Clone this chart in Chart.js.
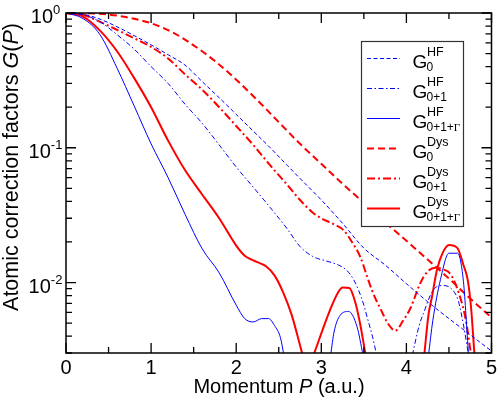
<!DOCTYPE html>
<html><head><meta charset="utf-8">
<script src="https://cdn.jsdelivr.net/npm/chart.js@4.4.1/dist/chart.umd.min.js"></script>
<style>html,body{margin:0;padding:0;background:#fff;}#c{display:block;}</style>
</head><body>
<canvas id="c" width="498" height="399"></canvas>
<script>
// ---------- data ----------
const P_HF0 = [0,0.2,0.4,0.6,0.8,1.0,1.2,1.4,1.6,1.8,2.0,2.2,2.4,2.6,2.8,3.0,3.25,3.5,3.75,4.0,4.25,4.5,4.75,5.0];
const G_HF0 = [1,0.98,0.90,0.79,0.68,0.58,0.49,0.41,0.31,0.235,0.177,0.133,0.10,0.074,0.055,0.041,0.0275,0.018,0.0135,0.0098,0.0072,0.0054,0.0041,0.0031];

const P_HF01 = [0,0.2,0.4,0.6,0.8,1.0,1.2,1.4,1.6,1.8,2.0,2.2,2.4,2.6,2.75,2.9,3.05,3.2,3.3,3.38,3.44,3.5,3.54,3.6,3.65,3.9,4.07,4.15,4.2,4.31,4.42,4.52,4.61,4.68,4.73];
const G_HF01 = [1,0.97,0.86,0.69,0.54,0.40,0.30,0.21,0.152,0.105,0.072,0.051,0.036,0.025,0.0185,0.0156,0.0145,0.0135,0.0123,0.0105,0.0087,0.0068,0.0055,0.0040,0.0029,null,0.0029,0.0048,0.0059,0.0087,0.0095,0.0091,0.0073,0.0045,0.0029];

const P_HF01G = [0,0.2,0.4,0.6,0.8,1.0,1.2,1.4,1.6,1.8,2.0,2.1,2.2,2.3,2.38,2.45,2.52,2.56,2.8,3.11,3.15,3.22,3.32,3.42,3.49,3.9,4.26,4.31,4.4,4.5,4.6,4.67,4.73];
const G_HF01G = [1,0.91,0.69,0.39,0.205,0.107,0.060,0.032,0.0178,0.0118,0.0068,0.0054,0.0051,0.0054,0.0054,0.0048,0.0039,0.0029,null,0.0029,0.0043,0.0057,0.0061,0.0047,0.0029,null,0.0029,0.0052,0.0105,0.0165,0.0165,0.0102,0.0029];

const P_DYS0 = [0,0.25,0.5,0.75,1.0,1.25,1.5,1.75,2.0,2.25,2.5,2.75,3.0,3.25,3.5,3.75,4.0,4.25,4.5,4.75,5.0];
const G_DYS0 = [1,0.997,0.975,0.92,0.84,0.72,0.575,0.44,0.32,0.225,0.155,0.107,0.076,0.054,0.039,0.028,0.0204,0.0148,0.0107,0.0076,0.0055];

const P_DYS01 = [0,0.2,0.4,0.6,0.8,1.0,1.2,1.4,1.6,1.8,2.0,2.2,2.4,2.6,2.75,2.9,3.0,3.15,3.26,3.36,3.46,3.54,3.61,3.7,3.78,3.87,3.96,4.05,4.16,4.25,4.34,4.42,4.52,4.62,4.7,4.76];
const G_DYS01 = [1,0.97,0.86,0.75,0.65,0.56,0.46,0.35,0.27,0.20,0.145,0.105,0.074,0.053,0.041,0.033,0.030,0.027,0.0245,0.020,0.0154,0.011,0.0083,0.0063,0.005,0.0044,0.0052,0.0065,0.0098,0.0121,0.0129,0.0126,0.0115,0.0082,0.0052,0.0029];

const P_DYS01G = [0,0.2,0.4,0.6,0.8,1.0,1.2,1.4,1.6,1.8,2.0,2.1,2.2,2.35,2.45,2.55,2.65,2.78,2.85,2.91,3.0,3.1,3.2,3.25,3.33,3.4,3.46,3.52,3.9,4.21,4.26,4.3,4.36,4.43,4.5,4.6,4.67,4.72,4.76,4.8];
const G_DYS01G = [1,0.94,0.74,0.52,0.33,0.20,0.113,0.068,0.045,0.030,0.0188,0.0158,0.0146,0.0132,0.0113,0.0085,0.0058,0.0029,null,0.0029,0.0042,0.0062,0.0085,0.0092,0.0091,0.0071,0.0048,0.0029,null,0.0029,0.0058,0.0078,0.0125,0.0168,0.019,0.018,0.0135,0.0105,0.0065,0.0029];

const LEGEND_SUP = ['HF','HF','HF','Dys','Dys','Dys'];
const LEGEND_SUB = ['0','0+1','0+1+','0','0+1','0+1+'];
const X_TICKS = [0,1,2,3,4,5];
const Y_TICKS = [1,0.1,0.01];
const Y_TICK_EXP = ['0','-1','-2'];
const X_TITLE = ['Momentum ', 'P', ' (a.u.)'];
const Y_TITLE = ['Atomic correction factors ', 'G', '(', 'P', ')'];

// ---------- styles ----------
const BLUE = '#0000ff', RED = '#ff0000';
const SERIES = [
  {p: P_HF0,   g: G_HF0,   color: BLUE, width: 1,   dash: [4,2.5]},
  {p: P_HF01,  g: G_HF01,  color: BLUE, width: 1,   dash: [5,2.5,1.5,2.5]},
  {p: P_HF01G, g: G_HF01G, color: BLUE, width: 1,   dash: []},
  {p: P_DYS0,  g: G_DYS0,  color: RED,  width: 2,   dash: [7,4]},
  {p: P_DYS01, g: G_DYS01, color: RED,  width: 2,   dash: [8,3,2,3]},
  {p: P_DYS01G,g: G_DYS01G,color: RED,  width: 2,   dash: []},
];
const SANS = '"Liberation Sans", Arial, Helvetica, sans-serif';
const SERIF = '"Liberation Serif", "DejaVu Serif", serif';

const datasets = SERIES.map((s, i) => ({
  label: 'G ' + LEGEND_SUP[i] + ' ' + LEGEND_SUB[i],
  data: s.p.map((x, k) => ({x: x, y: s.g[k]})),
  borderColor: s.color,
  backgroundColor: s.color,
  borderWidth: s.width,
  borderDash: s.dash,
  pointRadius: 0,
  fill: false,
  spanGaps: false,
  cubicInterpolationMode: 'monotone',
  clip: 0,
}));

function drawPieces(ctx, pieces, fonts, x, y, align) {
  let total = 0;
  const w = pieces.map((t, i) => { ctx.font = fonts[i]; const m = ctx.measureText(t).width; total += m; return m; });
  let cx = align === 'center' ? x - total / 2 : x;
  pieces.forEach((t, i) => { ctx.font = fonts[i]; ctx.fillText(t, cx, y); cx += w[i]; });
}

const decor = {
  id: 'decor',
  afterDatasetsDraw(chart) {
    const {ctx, chartArea: a, scales: {x, y}} = chart;
    ctx.save();
    ctx.fillStyle = '#000';
    ctx.textBaseline = 'alphabetic';
    ctx.textAlign = 'left';

    // ----- legend -----
    const lx0 = 361, lx1 = 463, ly0 = 41, ly1 = 226;
    ctx.fillStyle = '#fff';
    ctx.fillRect(lx0, ly0, lx1 - lx0, ly1 - ly0);
    ctx.strokeStyle = '#333'; ctx.lineWidth = 1.2; ctx.setLineDash([]);
    ctx.strokeRect(lx0 + 0.5, ly0 + 0.5, lx1 - lx0, ly1 - ly0);
    SERIES.forEach((s, i) => {
      const ry = 58.5 + i * 30;
      ctx.save();
      ctx.strokeStyle = s.color; ctx.lineWidth = s.width; ctx.setLineDash(s.dash);
      ctx.beginPath(); ctx.moveTo(367, ry); ctx.lineTo(400, ry); ctx.stroke();
      ctx.restore();
      ctx.fillStyle = '#000';
      ctx.font = '19px ' + SANS;
      ctx.fillText('G', 412.5, ry + 9);
      ctx.font = '12.5px ' + SANS;
      ctx.fillText(LEGEND_SUP[i], 427, ry - 3);
      ctx.font = '12px ' + SANS;
      ctx.fillText(LEGEND_SUB[i], 426.5, ry + 12);
      if (i === 2 || i === 5) {
        const w = ctx.measureText(LEGEND_SUB[i]).width;
        ctx.font = '11px ' + SERIF;
        ctx.fillText('\u0393', 426.5 + w, ry + 12);
      }
    });

    // ----- frame -----
    ctx.strokeStyle = '#000'; ctx.lineWidth = 1.5; ctx.setLineDash([]);
    ctx.strokeRect(a.left, a.top, a.right - a.left, a.bottom - a.top);

    // x ticks (inward, on bottom and top)
    ctx.lineWidth = 1.3;
    for (let k = 0; k <= 10; k++) {
      const v = k * 0.5;
      const px = x.getPixelForValue(v);
      const len = (k % 2 === 0) ? 10 : 6;
      ctx.beginPath();
      ctx.moveTo(px, a.bottom); ctx.lineTo(px, a.bottom - len);
      ctx.moveTo(px, a.top); ctx.lineTo(px, a.top + len);
      ctx.stroke();
    }
    // y ticks (inward, on left and right)
    for (let d = -3; d <= 0; d++) {
      for (let m = 1; m <= 9; m++) {
        const v = m * Math.pow(10, d);
        if (v < y.min * 0.999 || v > y.max * 1.001) continue;
        const py = y.getPixelForValue(v);
        const len = (m === 1) ? 10 : 6;
        ctx.beginPath();
        ctx.moveTo(a.left, py); ctx.lineTo(a.left + len, py);
        ctx.moveTo(a.right, py); ctx.lineTo(a.right - len, py);
        ctx.stroke();
      }
    }

    // x tick labels
    ctx.fillStyle = '#000';
    ctx.font = '20px ' + SANS;
    ctx.textAlign = 'center';
    X_TICKS.forEach(v => ctx.fillText(String(v), x.getPixelForValue(v), 374));
    ctx.textAlign = 'left';

    // y tick labels 10^n
    Y_TICKS.forEach((v, i) => {
      const py = y.getPixelForValue(v);
      ctx.font = '20px ' + SANS;
      const w1 = ctx.measureText('10').width;
      ctx.font = '13px ' + SANS;
      const w2 = ctx.measureText(Y_TICK_EXP[i]).width;
      const x0 = 45.5 - (w1 + w2) / 2;
      ctx.font = '20px ' + SANS;
      ctx.fillText('10', x0, py + 10);
      ctx.font = '13px ' + SANS;
      ctx.fillText(Y_TICK_EXP[i], x0 + w1, py + 1);
    });

    // axis titles
    drawPieces(ctx, X_TITLE, ['20px ' + SANS, 'italic 20px ' + SANS, '20px ' + SANS], 279, 393, 'center');
    ctx.save();
    ctx.translate(18, 167);
    ctx.rotate(-Math.PI / 2);
    const yf = '21.5px ' + SANS, yi = 'italic 21.5px ' + SANS;
    drawPieces(ctx, Y_TITLE, [yf, yi, yf, yi, yf], 0, 0, 'center');
    ctx.restore();

    ctx.restore();
  }
};

new Chart(document.getElementById('c'), {
  type: 'line',
  data: {datasets},
  options: {
    responsive: false,
    devicePixelRatio: 1,
    animation: false,
    events: [],
    layout: {padding: {left: 0, right: 6.5, top: 13, bottom: 0}},
    plugins: {legend: {display: false}, tooltip: {enabled: false}, title: {display: false}},
    scales: {
      x: {
        type: 'linear', min: 0, max: 5,
        grid: {display: false}, border: {display: false},
        ticks: {display: false},
        afterFit: s => { s.height = 46; }
      },
      y: {
        type: 'logarithmic', min: 0.003, max: 1,
        grid: {display: false}, border: {display: false},
        ticks: {display: false},
        afterFit: s => { s.width = 66; }
      }
    }
  },
  plugins: [decor]
});
</script>
</body></html>
